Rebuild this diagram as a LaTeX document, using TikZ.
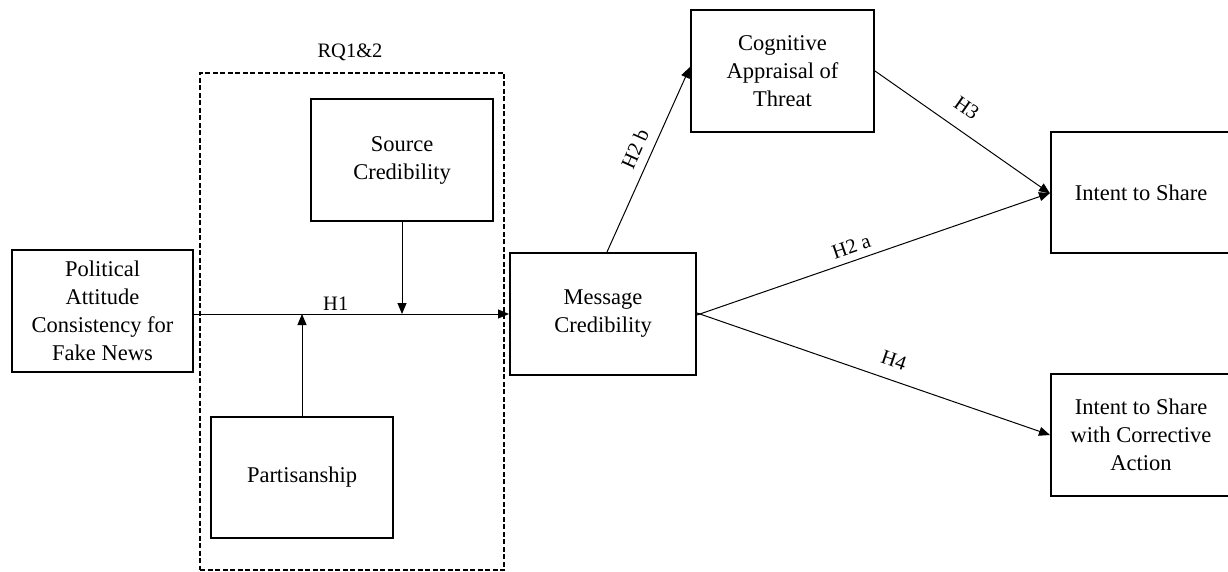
\documentclass[tikz,border=0pt]{standalone}
\usepackage{fontspec}
\setmainfont{Liberation Serif}
\usetikzlibrary{arrows.meta}

\tikzset{
  box/.style={draw, line width=2pt, rectangle, align=center,
    minimum width=182pt, minimum height=122pt, inner sep=0pt,
    font=\fontsize{22.5}{28}\selectfont},
  group/.style={draw, line width=2pt, dash pattern=on 5pt off 2.5pt,
    rectangle, inner sep=0pt},
  link/.style={line width=1pt, -{Triangle[length=11pt,width=9pt]}},
  lbl/.style={font=\fontsize{20.5}{24}\selectfont, inner sep=2pt}
}

\begin{document}
\begin{tikzpicture}[x=1pt, y=-1pt]
  \useasboundingbox (0,0) rectangle (1228,572);

  % moderator group
  \node[group, minimum width=304pt, minimum height=497pt] (rq) at (352,321.5) {};
  \node[lbl, anchor=south] (rqlabel) at (350,63) {RQ1\&2};

  % variables
  \node[box, minimum width=181pt] (pol) at (102.5,311) {Political\\Attitude\\Consistency for\\Fake News};
  \node[box] (src) at (402,160) {Source\\Credibility};
  \node[box, minimum height=121pt] (par) at (302,477.5) {Partisanship};
  \node[box, minimum width=186pt] (msg) at (603,314) {Message\\Credibility};
  \node[box, minimum width=183pt] (cog) at (782.5,71) {Cognitive\\Appraisal of\\Threat};
  \node[box, minimum width=180pt, minimum height=121pt] (its) at (1141,192.5) {Intent to Share};
  \node[box, minimum width=180pt] (cor) at (1141,435) {Intent to Share\\with Corrective\\Action};

  % main path and moderators
  \draw[link] (pol.east |- msg.west) -- node[lbl, pos=0.45, above=1pt] {H1} (msg.west);
  \coordinate (srcmeet) at (src.south |- msg.west);
  \coordinate (parmeet) at (par.north |- msg.west);
  \draw[link] (src.south) -- (srcmeet);
  \draw[link] (par.north) -- (parmeet);

  % outcomes
  \draw[link] ([xshift=4pt]msg.north) -- node[lbl, pos=0.52, sloped, above=7pt] {H2 b} ([yshift=4pt]cog.west);
  \draw[link] (cog.east) -- node[lbl, pos=0.45, sloped, above=13pt] {H3} ([yshift=-1pt]its.west);
  \draw[link] ([yshift=-1pt]msg.east) -- node[lbl, pos=0.45, sloped, above=5pt] {H2 a} ([yshift=-0.5pt]its.west);
  \draw[link] ([yshift=1pt]msg.east) -- node[lbl, pos=0.54, sloped, above=10pt] {H4} (cor.west);
\end{tikzpicture}
\end{document}
